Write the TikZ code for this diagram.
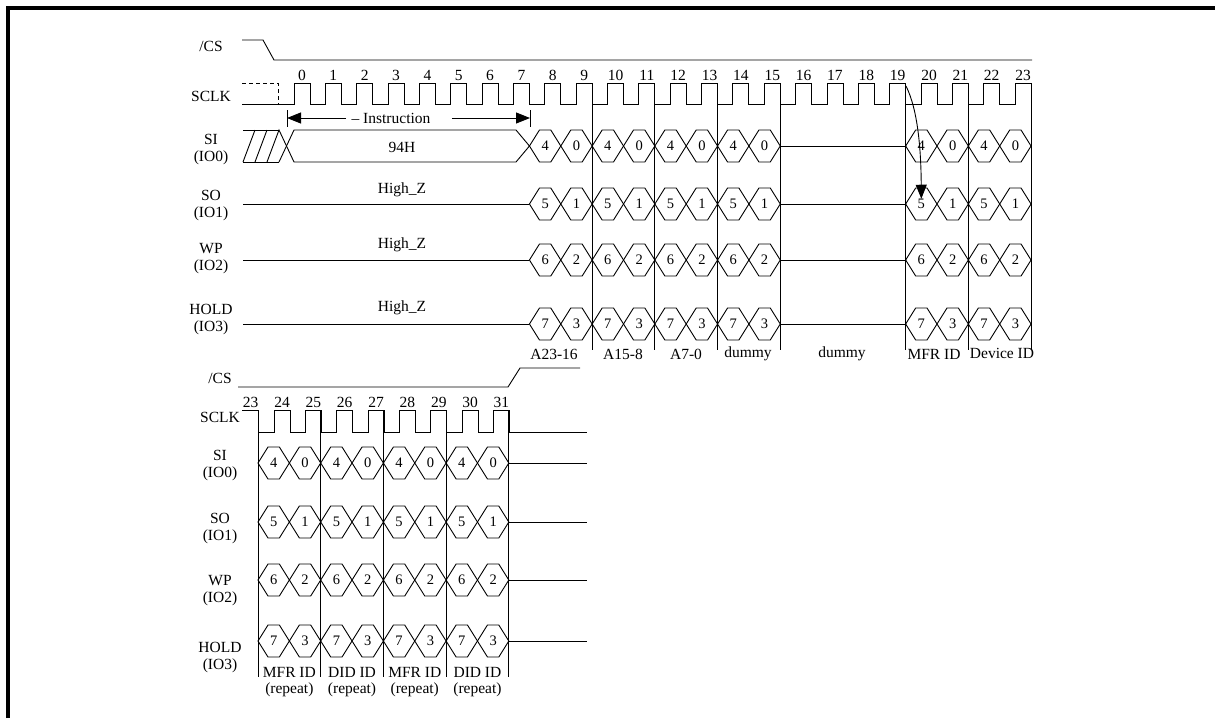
\documentclass[tikz,border=0pt]{standalone}
\usepackage{fontspec}
\setmainfont{Liberation Serif}
\usetikzlibrary{arrows.meta}

\begin{document}
\begin{tikzpicture}[x=1pt, y=-1pt, line width=0.9pt,
        sig/.style={font=\fontsize{15.5}{17}\selectfont, align=center, inner sep=0pt},
        bit/.style={font=\fontsize{14.5}{16}\selectfont, inner sep=0pt},
        tip/.style={-{Triangle[length=14pt,width=11pt]}}]
    \useasboundingbox (0,0) rectangle (1215,718);
    \draw[line width=4pt, line join=miter] (8,718) -- (8,8) -- (1215,8);

    \begin{scope}
        % names, first part
        \node[sig] (cs-a)   at (211,46)  {/CS};
        \node[sig] (clk-a)  at (211,96)  {SCLK};
        \node[sig] (si-a)   at (211,150) {SI\\(IO0)};
        \node[sig] (so-a)   at (211,206) {SO\\(IO1)};
        \node[sig] (wp-a)   at (211,259) {WP\\(IO2)};
        \node[sig] (hold-a) at (211,320) {HOLD\\(IO3)};

        \draw (242,40) -- (263,40) -- (274,60) -- (1032,60);

        \draw[dash pattern=on 4pt off 3pt] (242,83) -- (278,83) -- (278,104);
        \draw (242,104) \foreach \i in {0,...,23} { -- ({294+31.35*\i},104) -- ({294+31.35*\i},83) -- ({310+31.35*\i},83) -- ({310+31.35*\i},104) };
        \foreach \i in {0,...,23}
            \node[sig] (t\i) at ({302+31.35*\i},75) {\i};
        \foreach \i in {9,11,13,15,19,21,23}
            \draw ({310+31.35*\i},83) -- ({310+31.35*\i},350);

        % instruction
        \coordinate (ileft) at (287,118);
        \coordinate (iright) at (530,118);
        \draw (287,110) -- (287,127);
        \draw (530,110) -- (530,127);
        \node[sig] (instr) at (391,118) {-- Instruction};
        \draw[tip] ([xshift=-5pt]instr.west) -- (ileft);
        \draw[tip] ([xshift=21pt]instr.east) -- (iright);

        % SI before the address
        \draw (243,130) -- (279,130);
        \draw (243,162) -- (279,162);
        \draw (243,162) -- (255,130);
        \draw (255,162) -- (267,130);
        \draw (267,162) -- (279,130) -- (294,162) -- (516,162) -- (529.45,146);
        \draw (279,162) -- (294,130) -- (516,130) -- (529.45,146);
        \node[sig] (cmd) at (402,147) {94H};

        \foreach \y in {204,260,324}
            \draw (243,\y) -- (529.45,\y);
        \node[sig] (hz-so)   at (402,190) {High\_Z};
        \node[sig] (hz-wp)   at (402,245) {High\_Z};
        \node[sig] (hz-hold) at (402,308) {High\_Z};

        \foreach \row/\y/\a/\b in {si/146/4/0, so/204/5/1, wp/260/6/2, hold/324/7/3} {
            \foreach \k in {8,10,12,14,20,22} {
                \pgfmathsetmacro{\xa}{278.65+31.35*\k}
                \pgfmathsetmacro{\xb}{\xa+31.35}
                \pgfmathsetmacro{\xc}{\xb+31.35}
                \pgfmathtruncatemacro{\kk}{\k+1}
                \draw (\xa,\y) -- ({\xa+10},{\y-16}) -- ({\xb-10},{\y-16}) -- (\xb,\y) -- ({\xb-10},{\y+16}) -- ({\xa+10},{\y+16}) -- cycle;
                \draw (\xb,\y) -- ({\xb+10},{\y-16}) -- ({\xc-10},{\y-16}) -- (\xc,\y) -- ({\xc-10},{\y+16}) -- ({\xb+10},{\y+16}) -- cycle;
                \node[bit] (\row-\k) at ({(\xa+\xb)/2},\y) {\a};
                \node[bit] (\row-\kk) at ({(\xb+\xc)/2},\y) {\b};
            }
            \draw (780.25,\y) -- (905.65,\y);
        }

        \coordinate (c19) at (906,86);
        \draw[tip] (c19) .. controls (918,110) and (921,150) .. (so-20.north);

        \node[sig] (a1) at (554,354)  {A23-16};
        \node[sig] (a2) at (623,354)  {A15-8};
        \node[sig] (a3) at (686,354)  {A7-0};
        \node[sig] (d1) at (748,354)  {dummy};
        \node[sig] (d2) at (842,354)  {dummy};
        \node[sig] (m1) at (934,354)  {MFR ID};
        \node[sig] (v1) at (1002,353) {Device ID};
    \end{scope}

    \begin{scope}
        % names, second part
        \node[sig] (cs-b)   at (220,378) {/CS};
        \node[sig] (clk-b)  at (220,417) {SCLK};
        \node[sig] (si-b)   at (220,466) {SI\\(IO0)};
        \node[sig] (so-b)   at (220,529) {SO\\(IO1)};
        \node[sig] (wp-b)   at (220,591) {WP\\(IO2)};
        \node[sig] (hold-b) at (220,658) {HOLD\\(IO3)};

        \draw (238,387) -- (508,387) -- (520,368) -- (580,368);

        \draw (242,410) -- (258,410) -- (258,432) \foreach \j in {0,...,7} { -- ({274+31.35*\j},432) -- ({274+31.35*\j},410) -- ({290+31.35*\j},410) -- ({290+31.35*\j},432) } -- (587,432);
        \foreach \i in {23,...,31}
            \node[sig] (t\i) at ({282+31.35*(\i-24)},402) {\i};
        \foreach \m in {0,2,4,6,8}
            \draw ({258+31.35*\m},410) -- ({258+31.35*\m},677);

        \foreach \row/\y/\a/\b in {si/463/4/0, so/522/5/1, wp/580/6/2, hold/641/7/3} {
            \foreach \m in {0,2,4,6} {
                \pgfmathsetmacro{\xa}{258+31.35*\m}
                \pgfmathsetmacro{\xb}{\xa+31.35}
                \pgfmathsetmacro{\xc}{\xb+31.35}
                \draw (\xa,\y) -- ({\xa+10},{\y-16}) -- ({\xb-10},{\y-16}) -- (\xb,\y) -- ({\xb-10},{\y+16}) -- ({\xa+10},{\y+16}) -- cycle;
                \draw (\xb,\y) -- ({\xb+10},{\y-16}) -- ({\xc-10},{\y-16}) -- (\xc,\y) -- ({\xc-10},{\y+16}) -- ({\xb+10},{\y+16}) -- cycle;
                \node[bit] (\row-l\m) at ({(\xa+\xb)/2},\y) {\a};
                \node[bit] (\row-r\m) at ({(\xb+\xc)/2},\y) {\b};
            }
            \draw (508.8,\y) -- (587,\y);
        }

        \foreach \m/\t in {0/MFR ID, 2/DID ID, 4/MFR ID, 6/DID ID} {
            \node[sig] (id\m) at ({289.35+31.35*\m},672) {\t};
            \node[sig] (rep\m) at ({289.35+31.35*\m},690) {(repeat)};
        }
    \end{scope}
\end{tikzpicture}
\end{document}
